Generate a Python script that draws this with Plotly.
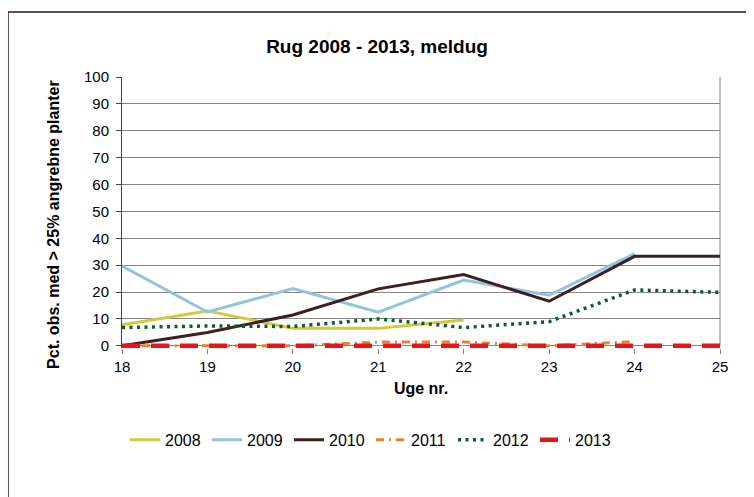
import plotly.graph_objects as go

weeks = [18, 19, 20, 21, 22, 23, 24, 25]
s2008 = [7.8, 13.0, 6.5, 6.5, 9.6, None, None, None]
s2009 = [29.7, 12.6, 21.3, 12.5, 24.5, 18.8, 34.3, None]
s2010 = [0.0, 5.0, 11.5, 21.2, 26.5, 16.6, 33.3, 33.3]
s2011 = [0.0, 0.0, 0.0, 1.4, 1.4, 0.0, 1.6, None]
s2012 = [6.8, 7.4, 7.2, 10.0, 6.8, 9.0, 20.8, 19.9]
s2013 = [0.0, 0.0, 0.0, 0.0, 0.0, 0.0, 0.0, 0.0]

series = [
    ("2008", s2008, "#d3c93e", 3, "solid"),
    ("2009", s2009, "#93c4dc", 3, "solid"),
    ("2010", s2010, "#3d1f20", 3, "solid"),
    ("2011", s2011, "#e8822c", 3, "8px,5px,2px,5px"),
    ("2012", s2012, "#0d5a30", 3.5, "3px,4.5px"),
    ("2013", s2013, "#e8141a", 4.5, "18px,11px"),
]

fig = go.Figure()
for name, vals, color, w, dash in series:
    fig.add_trace(go.Scatter(
        x=weeks, y=vals, name=name, mode="lines",
        line=dict(color=color, width=w, dash=dash),
        connectgaps=False,
    ))

font_family = "Liberation Sans, Arial, sans-serif"

W, H = 754, 497
OFF = 8  # page body margin
YMIN = -0.8
L = 122 - OFF
R = 720 - OFF
T = 77 - OFF
Y0 = 346 - OFF
PPU = (Y0 - T) / 100.0
B = Y0 - YMIN * PPU


def px(x):
    return (x - OFF - L) / (R - L)


def py(y):
    return (B - (y - OFF)) / (B - T)


fig.update_layout(
    width=W, height=H,
    margin=dict(l=L, r=W - R, t=T, b=H - B),
    paper_bgcolor="white", plot_bgcolor="white",
    font=dict(family=font_family, size=15, color="#000000"),
    title=dict(text="<b>Rug 2008 - 2013, meldug</b>",
               x=(377 - OFF) / W, xref="container",
               xanchor="center", y=1 - (46 - OFF) / H, yanchor="middle",
               font=dict(size=19, family=font_family)),
    showlegend=True,
    legend=dict(orientation="h", x=px(371), xanchor="center",
                y=py(440), yanchor="middle",
                font=dict(size=16, family=font_family),
                entrywidth=37, entrywidthmode="pixels",
                traceorder="normal", bgcolor="rgba(0,0,0,0)"),
    xaxis=dict(
        range=[18, 25], tickmode="linear", tick0=18, dtick=1,
        showgrid=False, zeroline=False,
        showline=False,
        ticks="outside", ticklen=5, tickcolor="#868686",
        tickfont=dict(size=15),
        title=dict(text="<b>Uge nr.</b>", font=dict(size=16), standoff=8),
    ),
    yaxis=dict(
        range=[YMIN, 100], tickmode="array", tickvals=list(range(0, 101, 10)),
        showgrid=True, gridcolor="#868686", gridwidth=1,
        zeroline=False,
        showline=True, linecolor="#404040", linewidth=1,
        ticks="outside", ticklen=5, tickcolor="#404040",
        tickfont=dict(size=15), ticklabelstandoff=4,
    ),
    annotations=[
        dict(text="<b>Pct. obs. med &gt; 25% angrebne planter</b>",
             textangle=-90, xref="paper", yref="paper",
             x=px(54), y=py(225), xanchor="center", yanchor="middle",
             showarrow=False, font=dict(size=16, family=font_family)),
    ],
    shapes=[
        dict(type="line", xref="paper", yref="y", x0=1, x1=1, y0=0, y1=100,
             line=dict(color="#868686", width=1), layer="below"),
        dict(type="line", xref="paper", yref="paper",
             x0=px(8), x1=px(800), y0=py(12), y1=py(12),
             line=dict(color="#3d0c3d", width=1.5)),
        dict(type="line", xref="paper", yref="paper",
             x0=px(8), x1=px(8), y0=py(12), y1=py(560),
             line=dict(color="#3d0c3d", width=1.5)),
    ],
)

fig.write_html("out.html")
